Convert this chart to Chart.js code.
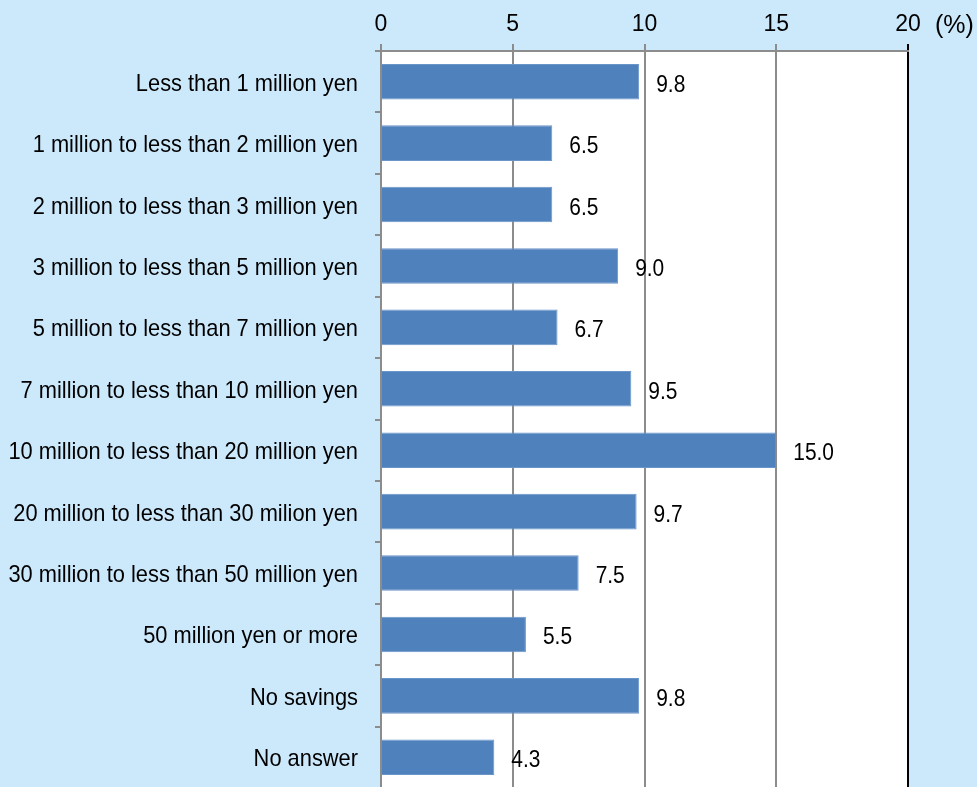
<!DOCTYPE html>
<html>
<head>
<meta charset="utf-8">
<script src="https://cdn.jsdelivr.net/npm/chart.js@4"></script>
<style>
  html, body { margin: 0; padding: 0; overflow: hidden; background: #cce9fc; }
  canvas { display: block; }
</style>
</head>
<body>
<canvas id="chart" width="977" height="790"></canvas>
<script>
const categories = [
  "Less than 1 million yen",
  "1 million to less than 2 million yen",
  "2 million to less than 3 million yen",
  "3 million to less than 5 million yen",
  "5 million to less than 7 million yen",
  "7 million to less than 10 million yen",
  "10 million to less than 20 million yen",
  "20 million to less than 30 milion yen",
  "30 million to less than 50 million yen",
  "50 million yen or more",
  "No savings",
  "No answer",
];
const shares = [9.8, 6.5, 6.5, 9.0, 6.7, 9.5, 15.0, 9.7, 7.5, 5.5, 9.8, 4.3];
const axisTicks = [0, 5, 10, 15, 20];
const unitLabel = "(%)";

const FONT = "'Liberation Sans', Arial, sans-serif";
const SQUEEZE = 0.91; // condensed look for the text drawn by hand

// white plot area on the blue page
const plotBackground = {
  id: "plotBackground",
  beforeDraw(chart) {
    const { ctx, chartArea: a } = chart;
    ctx.save();
    ctx.fillStyle = "#ffffff";
    ctx.fillRect(a.left, a.top, a.right - a.left, a.bottom - a.top);
    ctx.restore();
  },
};

function squeezedText(ctx, text, x, y, align) {
  ctx.save();
  ctx.translate(x, y);
  ctx.scale(SQUEEZE, 1);
  ctx.textAlign = align;
  ctx.fillText(text, 0, 0);
  ctx.restore();
}

// category names, values next to bars, unit after the last tick
const textLayer = {
  id: "textLayer",
  afterDatasetsDraw(chart) {
    const { ctx } = chart;
    const ys = chart.scales.y;
    const xs = chart.scales.x;
    const meta = chart.getDatasetMeta(0);
    ctx.save();
    ctx.fillStyle = "#000";
    ctx.textBaseline = "alphabetic";

    ctx.font = "24px " + FONT;
    categories.forEach((name, i) => {
      squeezedText(ctx, name, ys.right - 23, ys.getPixelForValue(i) + 9, "right");
    });

    ctx.font = "23px " + FONT;
    meta.data.forEach((bar, i) => {
      squeezedText(ctx, shares[i].toFixed(1), bar.x + 17, bar.y + 10, "left");
    });

    ctx.font = "25px " + FONT;
    ctx.textAlign = "left";
    ctx.fillText(unitLabel, xs.getPixelForValue(20) + 27, 33);
    ctx.restore();
  },
};

new Chart(document.getElementById("chart"), {
  type: "bar",
  data: {
    labels: categories,
    datasets: [{
      data: shares,
      backgroundColor: "#4f81bd",
      borderColor: "#6a95c9",
      borderWidth: 1,
      barPercentage: 0.58,
      categoryPercentage: 1,
    }],
  },
  options: {
    indexAxis: "y",
    responsive: false,
    animation: false,
    layout: { padding: { top: 0, right: 69, bottom: 2, left: 0 } },
    plugins: { legend: { display: false }, tooltip: { enabled: false } },
    scales: {
      x: {
        position: "top",
        min: 0,
        max: 20,
        afterBuildTicks: (scale) => { scale.ticks = axisTicks.map((v) => ({ value: v })); },
        afterFit: (scale) => { scale.height = 51; },
        ticks: {
          color: "#000",
          font: { family: FONT, size: 23 },
          padding: 6,
        },
        grid: {
          color: (c) => (c.tick && c.tick.value === 20 ? "#000" : "#8c8c8c"),
          lineWidth: 2,
          tickLength: 7,
        },
        border: { display: true, color: "#8c8c8c", width: 2 },
      },
      y: {
        afterFit: (scale) => { scale.width = 381; },
        ticks: { display: false },
        grid: {
          offset: true,
          drawOnChartArea: false,
          color: "#8c8c8c",
          lineWidth: 2,
          tickLength: 6,
        },
        border: { display: true, color: "#8c8c8c", width: 2 },
      },
    },
  },
  plugins: [plotBackground, textLayer],
});
</script>
</body>
</html>
